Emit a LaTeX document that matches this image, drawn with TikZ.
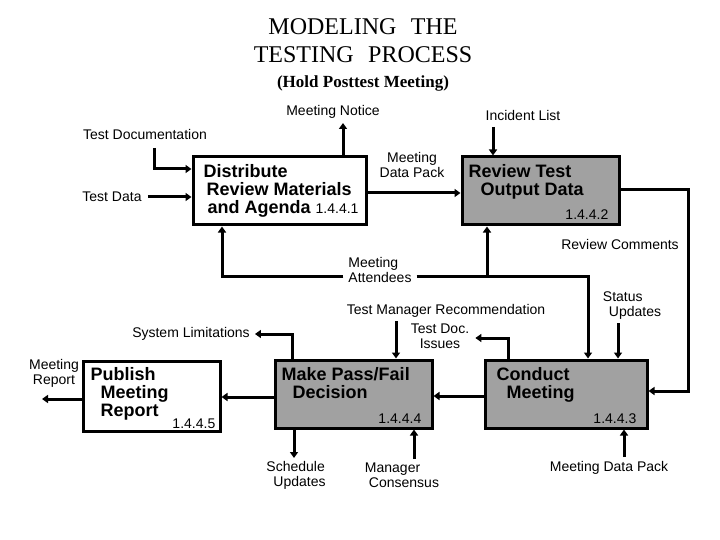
\documentclass[tikz,border=0pt]{standalone}
\usepackage{fontspec}
\setmainfont{Liberation Sans}
\newfontfamily\titlefont{Liberation Serif}
\usetikzlibrary{arrows.meta,positioning,calc}
\tikzset{
    block/.style = {draw, rectangle, line width=3pt, fill=white, inner sep=0pt},
    shaded/.style = {block, fill=black!37},
    btext/.style = {font=\fontsize{18}{18}\selectfont\bfseries, align=left, inner sep=0pt},
    num/.style = {font=\fontsize{14}{15}\selectfont, inner sep=0pt},
    lbl/.style = {font=\fontsize{14}{15}\selectfont, align=center, inner sep=1pt},
    flow/.style = {draw, line width=3pt, -{Triangle[length=6pt,width=8pt]}}
}
\begin{document}
\begin{tikzpicture}[x=1pt, y=-1pt]
    \useasboundingbox (0,0) rectangle (720,540);
    % title
    \node[font=\titlefont\fontsize{24}{28}\selectfont, align=center] (title) at (363,41) {MODELING\hspace{0.6em}THE\\TESTING\hspace{0.6em}PROCESS};
    \node[font=\titlefont\bfseries\fontsize{17}{20}\selectfont] (sub) at (363,83) {(Hold Posttest Meeting)};
    % activity boxes
    \node[block, minimum width=173pt, minimum height=68pt] (dist) at (279.5,191) {};
    \node[shaded, minimum width=157pt, minimum height=68pt] (revw) at (540.5,191) {};
    \node[shaded, minimum width=162pt, minimum height=68pt] (cond) at (566,394) {};
    \node[shaded, minimum width=157pt, minimum height=68pt] (decide) at (353.5,394) {};
    \node[block, minimum width=137pt, minimum height=70pt] (publ) at (151.5,396) {};
    \node[btext, anchor=north west] (dist-t) at ([shift={(12pt,-9pt)}]dist.north west) {Distribute\\\hspace{3pt}Review Materials\\\hspace{4pt}and Agenda {\mdseries\fontsize{14}{15}\selectfont 1.4.4.1}};
    \node[btext, anchor=north west] (revw-t) at ([shift={(8pt,-8.5pt)}]revw.north west) {Review Test\\\hspace{12pt}Output Data};
    \node[btext, anchor=north west] (cond-t) at ([shift={(13pt,-8.5pt)}]cond.north west) {Conduct\\\hspace{10pt}Meeting};
    \node[btext, anchor=north west] (decide-t) at ([shift={(8pt,-8.5pt)}]decide.north west) {Make Pass/Fail\\\hspace{11pt}Decision};
    \node[btext, anchor=north west] (publ-t) at ([shift={(9pt,-7.5pt)}]publ.north west) {Publish\\\hspace{10pt}Meeting\\\hspace{10pt}Report};
    \node[num, anchor=south east] (revw-n) at ([shift={(-12pt,7pt)}]revw.south east) {1.4.4.2};
    \node[num, anchor=south east] (cond-n) at ([shift={(-12pt,6pt)}]cond.south east) {1.4.4.3};
    \node[num, anchor=south east] (decide-n) at ([shift={(-12pt,6pt)}]decide.south east) {1.4.4.4};
    \node[num, anchor=south east] (publ-n) at ([shift={(-6pt,4pt)}]publ.south east) {1.4.4.5};
    % labels
    \node[lbl] (notice) at (333,112) {Meeting Notice};
    \node[lbl] (incid) at (523,115) {Incident List};
    \node[lbl] (tdoc) at (145,134) {Test Documentation};
    \node[lbl] (tdata) at (112,197) {Test Data};
    \node[lbl] (mdp1) at (412,165) {Meeting\\Data Pack};
    \node[lbl] (revc) at (620,244) {Review Comments};
    \node[lbl, align=left] (att) at (380,269.5) {Meeting\\Attendees};
    \node[lbl, align=left] (stat) at (632,305.5) {Status\\\hspace{6pt}Updates};
    \node[lbl] (tmr) at (446,311) {Test Manager Recommendation};
    \node[lbl] (tdi) at (440,336.5) {Test Doc.\\Issues};
    \node[lbl] (slim) at (191,334) {System Limitations};
    \node[lbl] (mrep) at (54,373.5) {Meeting\\Report};
    \node[lbl, align=left] (sched) at (296,475.5) {Schedule\\\hspace{7pt}Updates};
    \node[lbl, align=left] (mcon) at (402,475.5) {Manager\\\hspace{4pt}Consensus};
    \node[lbl] (mdp2) at (609,468) {Meeting Data Pack};
    % free ends and bends
    \coordinate (c1) at (154,148);
    \coordinate (c2) at (343,123);
    \coordinate (c3) at (493,127);
    \coordinate (c4) at (688,391);
    \coordinate (c5) at (222,276);
    \coordinate (c6) at (588,276);
    \coordinate (c7) at (487,276);
    \coordinate (c8) at (618,323);
    \coordinate (c9) at (396,321);
    \coordinate (c10) at (508,338);
    \coordinate (c11) at (624,457);
    \coordinate (c12) at (414,459);
    \coordinate (c13) at (294,458);
    \coordinate (c14) at (292,333);
    \coordinate (c15) at (42,399);
    % connectors
    \draw[flow] (c1) |- ([yshift=22pt]dist.west);
    \draw[flow] ([xshift=5pt]tdata.east) -- ([yshift=-6pt]dist.west);
    \draw[flow] (c2 |- dist.north) -- (c2);
    \draw[flow] (c3) -- (c3 |- revw.north);
    \draw[flow] ([yshift=-2pt]dist.east) -- ([yshift=-2pt]revw.west);
    \draw[flow] ([yshift=1pt]revw.east) -| (c4) -- (c4 -| cond.east);
    \draw[flow] ([xshift=-4pt]att.west |- c5) -- (c5) -- (c5 |- dist.south);
    \draw[flow] ([xshift=4pt]att.east |- c6) -- (c6) -- (c6 |- cond.north);
    \draw[flow] (c7) -- (c7 |- revw.south);
    \draw[flow] (c8) -- (c8 |- cond.north);
    \draw[flow] (c9) -- (c9 |- decide.north);
    \draw[flow] (c10 |- cond.north) |- ([xshift=5pt,yshift=-1.5pt]tdi.east);
    \draw[flow] ([yshift=-2pt]cond.west) -- ([yshift=-2pt]decide.east);
    \draw[flow] (c11) -- (c11 |- cond.south);
    \draw[flow] (c12) -- (c12 |- decide.south);
    \draw[flow] (c13 |- decide.south) -- (c13);
    \draw[flow] ([yshift=-3pt]decide.west) -- ([yshift=-1pt]publ.east);
    \draw[flow] (c14 |- decide.north) |- ([xshift=4pt]slim.east);
    \draw[flow] (c15 -| publ.west) -- (c15);
\end{tikzpicture}
\end{document}
